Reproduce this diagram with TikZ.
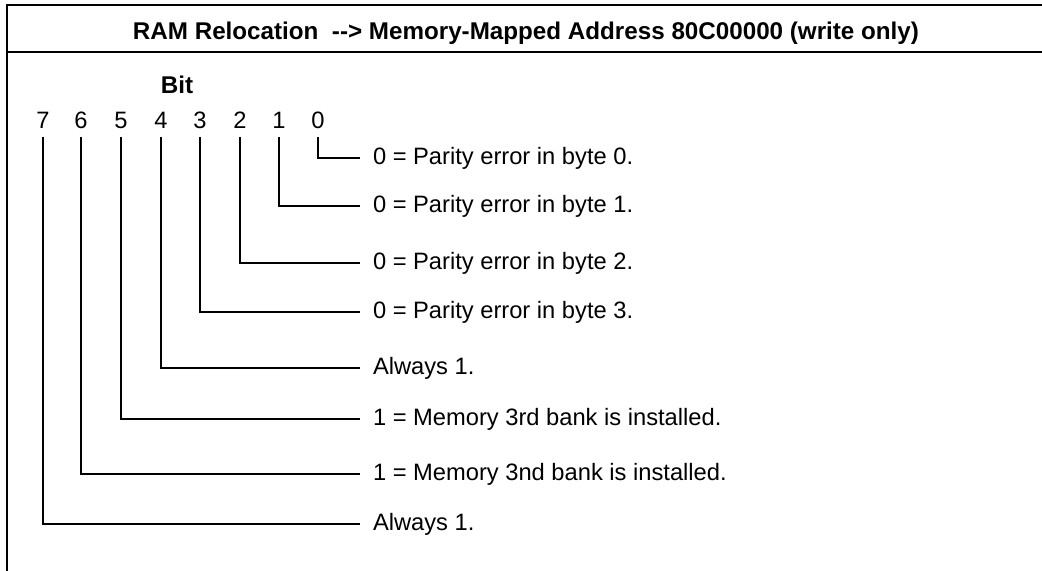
\documentclass[tikz,border=0pt]{standalone}
\usepackage{fontspec}
\setmainfont{Liberation Sans}
\begin{document}
\begin{tikzpicture}[x=0.5pt,y=-0.5pt,line width=1pt,
  font=\fontsize{11.85}{14}\selectfont,
  hdr/.style={font=\fontsize{12.1}{14}\selectfont\bfseries},
  bitno/.style={inner sep=0pt,anchor=base},
  desc/.style={anchor=west,inner xsep=6pt,inner ysep=0pt}
  ]
  \useasboundingbox (0,0) rectangle (1042,571);
  \draw[line width=1.2pt] (1042,5) -- (7,5) -- (7,571);
  \draw[line width=1.2pt] (7,52) -- (1042,52);
  \node[hdr] (title) at (526,33) {RAM Relocation \ -{}-> Memory-Mapped Address 80C00000 (write only)};
  \node[hdr] (bit) at (177,85) {Bit};

  \foreach \i/\x in {7/43,6/81,5/121,4/161,3/200,2/240,1/279,0/318}
    \node[bitno] (b_\i) at (\x,129) {\i};

  \foreach \i/\y/\t in {0/158/{0 = Parity error in byte 0.},
                        1/206/{0 = Parity error in byte 1.},
                        2/263/{0 = Parity error in byte 2.},
                        3/312/{0 = Parity error in byte 3.},
                        4/368/{Always 1.},
                        5/419/{1 = Memory 3rd bank is installed.},
                        6/474/{1 = Memory 3nd bank is installed.},
                        7/524/{Always 1.}}
    \node[desc] (l_\i) at (360,\y) {\t};

  \foreach \i in {0,...,7}
    \draw ([yshift=-4pt]b_\i.base) |- (l_\i.west);
\end{tikzpicture}
\end{document}
